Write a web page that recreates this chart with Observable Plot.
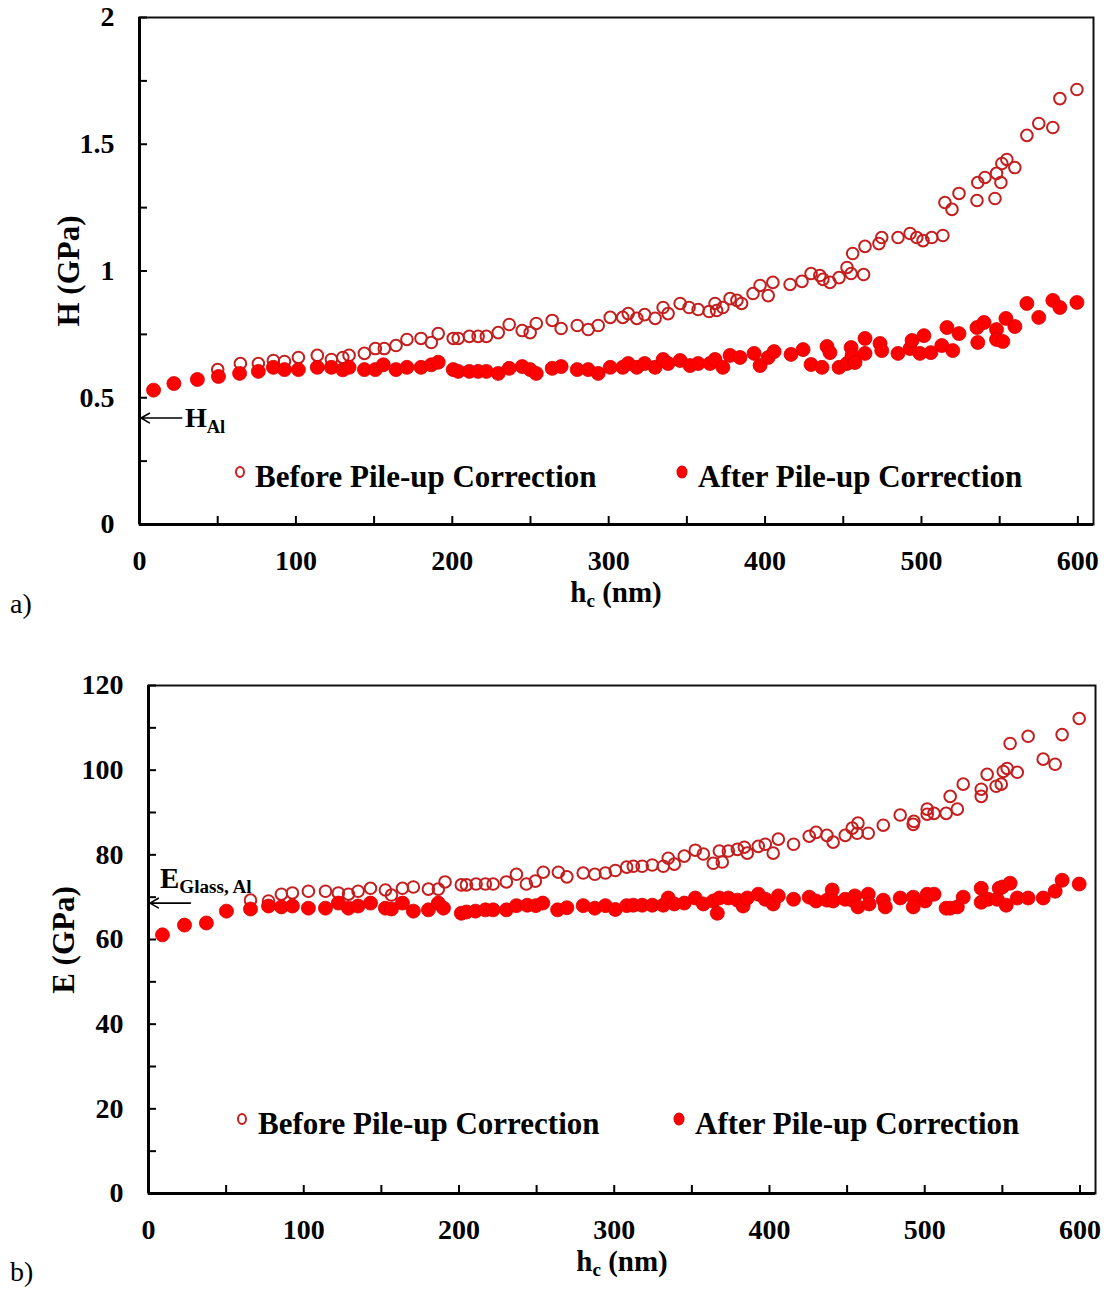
<!DOCTYPE html>
<html>
<head>
<meta charset="utf-8">
<script src="https://cdn.jsdelivr.net/npm/d3@7"></script>
<script src="https://cdn.jsdelivr.net/npm/@observablehq/plot@0.6"></script>
<style>
  body { margin: 0; background: #fff; }
  #fig { position: relative; width: 1110px; height: 1290px; font-family: "Liberation Serif", "Times New Roman", serif; color: #000; overflow: hidden; }
  .panel { position: absolute; left: 0; }
  .t { position: absolute; white-space: nowrap; line-height: 1; font-weight: bold; }
  .legend { font-size: 31px; transform: translateY(-50%); }
  .sym { position: absolute; box-sizing: border-box; border-radius: 50%; transform: translate(-50%, -50%); }
  .sym.open { width: 10px; height: 12px; border: 2px solid #c41e1e; background: #fff; }
  .sym.fill { width: 11px; height: 13px; background: #ff0000; border: 1px solid #d40000; }
  .ytitle { font-size: 31px; transform: translate(-50%, -50%) rotate(-90deg); }
  .xtitle { font-size: 29px; transform: translate(-50%, -50%); }
  .xtitle sub, .ann sub { font-size: 0.66em; vertical-align: -0.3em; }
  .tag { font-size: 28px; font-weight: normal; transform: translateY(-50%); }
  .ann { font-size: 28px; transform: translateY(-50%); }
  .ann.wide { font-size: 29px; }
</style>
</head>
<body>
<div id="fig"></div>
<script>
// Hardness H (GPa) versus contact depth hc (nm): [hc, H]
const hardnessBefore = [
  [50,0.611],[64.5,0.635],[76,0.635],[85.6,0.647],[92.7,0.643],[101.6,0.659],[113.7,0.667],[122.7,0.651],
  [130,0.659],[134,0.667],[143.8,0.675],[150.8,0.694],[156.5,0.694],[164,0.706],[171,0.73],[180,0.734],
  [186.6,0.718],[191,0.753],[200.6,0.734],[203.8,0.734],[210.9,0.742],[216.5,0.742],[221.8,0.742],[229.4,0.757],
  [236.4,0.789],[244.7,0.765],[249.8,0.757],[253.7,0.793],[263.9,0.805],[269.6,0.773],[279.9,0.785],[286.9,0.769],
  [293.3,0.785],[301,0.817],[309,0.817],[312.5,0.832],[318,0.813],[323,0.828],[329.7,0.813],[334.8,0.856],
  [338,0.832],[345.7,0.872],[351.4,0.856],[357.2,0.848],[364.2,0.84],[368,0.872],[369,0.844],[373,0.856],
  [377.6,0.891],[382,0.884],[385,0.872],[392.3,0.911],[396.8,0.943],[402,0.903],[405,0.955],[416,0.947],
  [423.6,0.959],[429.4,0.99],[435,0.982],[437,0.967],[441.5,0.955],[447.3,0.974],[452.4,1.014],[455,0.99],
  [456,1.069],[463,0.986],[463.9,1.097],[472.8,1.108],[474.6,1.132],[485,1.132],[492.7,1.148],[497,1.132],
  [501,1.12],[506.6,1.132],[513.7,1.14],[515,1.27],[519.5,1.243],[524,1.306],[535.5,1.278],[536,1.349],
  [540.6,1.369],[547,1.286],[548,1.385],[550.8,1.349],[551.4,1.424],[554.6,1.44],[559.7,1.408],[567.4,1.535],
  [575,1.582],[584,1.566],[588.5,1.68],[599.4,1.716]
];
const hardnessAfter = [
  [9,0.53],[22,0.556],[37,0.572],[50.5,0.584],[64,0.596],[76,0.604],[85.6,0.62],[92.7,0.611],[101.6,0.611],
  [113.7,0.62],[122.7,0.62],[130,0.61],[134,0.62],[143.8,0.611],[150.8,0.611],[155.9,0.63],[164,0.611],
  [171,0.62],[180,0.62],[186.6,0.63],[191,0.64],[200.6,0.611],[203.8,0.604],[210.9,0.604],[216.5,0.604],
  [221.8,0.604],[229.4,0.596],[236.4,0.616],[244.7,0.623],[249.8,0.611],[253.7,0.596],[263.9,0.616],
  [269.6,0.623],[279.9,0.611],[286.9,0.611],[293.3,0.596],[301,0.62],[309,0.62],[312.5,0.635],[318,0.62],
  [323,0.635],[329.7,0.62],[334.8,0.651],[338,0.635],[345.7,0.647],[352,0.627],[357.2,0.635],[364.8,0.635],
  [368,0.651],[373,0.62],[377.6,0.667],[384,0.659],[393,0.675],[396.8,0.627],[402,0.659],[405.8,0.682],
  [416.6,0.671],[424.3,0.69],[429.4,0.631],[436.4,0.62],[439.6,0.702],[441.5,0.678],[447.3,0.62],[452.4,0.635],
  [455,0.698],[455.6,0.667],[457.5,0.639],[463.9,0.734],[463.9,0.675],[473.5,0.714],[474.6,0.686],[485,0.675],
  [492.7,0.694],[494,0.726],[499,0.675],[501.6,0.745],[506,0.678],[513,0.706],[516.3,0.777],[520,0.686],
  [524,0.753],[535.5,0.777],[536,0.718],[540,0.797],[548,0.769],[548,0.73],[552,0.722],[554,0.813],
  [559.7,0.781],[567.4,0.872],[575,0.817],[584,0.884],[588.5,0.856],[599.4,0.876]
];

// Elastic modulus E (GPa) versus contact depth hc (nm): [hc, E]
const modulusBefore = [
  [65.7,69.3],[77.3,69.1],[85.6,70.7],[92.7,71.0],[103,71.4],[114,71.4],[122.3,71.0],[128.8,70.7],[135,71.4],
  [143,72.1],[152.6,71.7],[156.5,70.5],[163.6,72.1],[170.6,72.4],[180.3,71.9],[186.7,71.9],[191,73.6],
  [201.5,72.9],[204.8,72.9],[211,73.1],[217,73.1],[222,73.1],[230.5,73.6],[237,75.4],[243.4,73.1],[249.2,73.8],
  [254.3,75.9],[264,75.9],[269.5,74.8],[280,75.7],[287.5,75.4],[294.3,75.7],[300.7,76.3],[308,77.1],
  [312.3,77.3],[318,77.3],[324.5,77.6],[331.6,77.3],[334.8,79.2],[338.7,77.8],[345.1,79.7],[352.2,81.1],
  [357.4,80.2],[363.8,78.0],[367.7,80.9],[369.6,78.3],[373.5,80.9],[379.3,81.3],[383.8,81.8],[385.7,80.4],
  [392.8,82.0],[397.3,82.5],[402.4,80.4],[405.7,83.7],[415.5,82.5],[425.6,84.4],[430,85.3],[437,84.6],
  [441,83.0],[448.8,84.6],[453.3,86.3],[456.5,85.1],[457,87.5],[463.6,85.1],[473.3,87.0],[484.2,89.4],
  [492.6,87.2],[493,87.9],[501.6,90.8],[501.6,89.6],[506,89.8],[513.8,89.8],[516.4,93.8],[521,90.8],
  [524.8,96.7],[536.4,93.8],[536.4,95.5],[540.2,99.0],[546,96.2],[549.3,96.7],[550.6,99.7],[553.1,100.4],
  [555,106.3],[559.6,99.5],[566.6,108.0],[576.3,102.6],[584,101.4],[588.5,108.4],[599.5,112.2]
];
const modulusAfter = [
  [9,61.1],[23.2,63.4],[37.3,63.9],[50.2,66.7],[65.7,67.2],[77.3,67.9],[85.6,67.7],[92.7,67.9],[103,67.4],
  [114,67.4],[122.3,68.6],[128.8,67.4],[135,67.9],[143,68.6],[152.6,67.4],[156.5,67.2],[163.6,68.6],
  [170.6,66.7],[180.3,67.0],[186.7,68.6],[190,67.4],[201.5,66.2],[204.8,66.5],[210.6,66.7],[217,67.0],
  [222,67.0],[230.5,67.0],[237,68.0],[244,68.1],[249.5,68.0],[254,68.6],[263.5,67.0],[269.5,67.5],[280,68.0],
  [287.5,67.4],[294.3,68.0],[300.7,67.1],[308,68.0],[312.3,68.1],[318,68.1],[324.5,68.1],[331.6,68.1],
  [334.8,69.8],[338.7,68.4],[345.1,68.6],[352.2,69.8],[357.4,68.4],[363.8,69.1],[366.4,66.2],[367.7,69.8],
  [373.5,69.8],[379.3,69.3],[383,67.9],[385.7,69.8],[392.8,70.7],[397.3,69.5],[402.4,68.4],[405.7,70.3],
  [415.5,69.5],[425.6,70.0],[430,69.1],[437,69.3],[440.4,71.7],[441,69.1],[448.8,69.5],[453.3,69.3],
  [455,70.3],[457,67.7],[463.6,70.7],[464.2,68.4],[473.3,69.3],[474.6,67.7],[484.2,69.8],[492.6,70.0],
  [492.6,67.7],[500.3,69.1],[501.6,70.7],[506,70.7],[513.8,67.4],[516.4,67.4],[521,67.7],[524.8,70.0],
  [536.4,72.1],[536.4,68.8],[540.9,69.5],[546.7,69.5],[548,72.1],[550,72.4],[552.5,68.1],[555,73.3],
  [559.6,69.8],[566.6,69.8],[576.3,69.8],[584,71.4],[588.5,74.0],[599.5,73.1]
];

// Reference values marked with arrows on the y axes
const hardnessAl = 0.42;      // H_Al
const modulusGlassAl = 68.6;  // E_Glass,Al
const arrowSpan = [27, 1];    // hc extent of the reference arrows

// Axis ticks
const xTickLabels = [0, 100, 200, 300, 400, 500, 600];
const xTickMarks = [0, 50, 100, 150, 200, 250, 300, 350, 400, 450, 500, 550, 600];
const hTickLabels = [0, 0.5, 1, 1.5, 2];
const hTickMarks = [0, 0.25, 0.5, 0.75, 1, 1.25, 1.5, 1.75, 2];
const eTickLabels = [0, 20, 40, 60, 80, 100, 120];
const eTickMarks = d3.range(0, 121, 10);

const openStroke = "#c41e1e";
const solidFill = "#ff0000";

function panel({before, after, yDomain, yLabels, yMarks, ref, marginLeft, marginRight, marginBottom}) {
  return Plot.plot({
    width: 1110,
    height: 600,
    marginTop: 17,
    marginBottom,
    marginLeft,
    marginRight,
    x: {domain: [0, 610]},
    y: {domain: yDomain},
    style: {fontFamily: '"Liberation Serif", "Times New Roman", serif', fontSize: "28px", fontWeight: "bold", color: "#000", background: "transparent", overflow: "visible"},
    marks: [
      Plot.frame({stroke: "#111", strokeWidth: 2}),
      Plot.ruleX([0], {stroke: "#000", strokeWidth: 3}),
      Plot.ruleY([yDomain[0]], {stroke: "#000", strokeWidth: 3}),
      // inward tick marks
      Plot.axisX({ticks: xTickMarks, tickSize: 8, dy: -8, tickFormat: () => "", label: null, strokeWidth: 2}),
      Plot.axisY({ticks: yMarks, tickSize: 8, dx: 8, tickFormat: () => "", label: null, strokeWidth: 2}),
      // tick labels
      Plot.axisX({ticks: xTickLabels, tickSize: 0, tickPadding: 26, tickFormat: d => String(d), label: null}),
      Plot.axisY({ticks: yLabels, tickSize: 0, tickPadding: 25, tickFormat: d => String(d), label: null}),
      // reference arrow
      Plot.arrow([ref], {x1: arrowSpan[0], x2: arrowSpan[1], y1: d => d, y2: d => d, stroke: "#000", strokeWidth: 1.6, headLength: 9}),
      // data
      Plot.dot(before, {x: d => d[0], y: d => d[1], r: 5.8, fill: "none", stroke: openStroke, strokeWidth: 2}),
      Plot.dot(after, {x: d => d[0], y: d => d[1], r: 7, fill: solidFill, stroke: "#d80000", strokeWidth: 0.8})
    ]
  });
}

const fig = document.getElementById("fig");

const a = panel({before: hardnessBefore, after: hardnessAfter, yDomain: [0, 2], yLabels: hTickLabels, yMarks: hTickMarks,
  ref: hardnessAl, marginLeft: 139, marginRight: 17, marginBottom: 76});
a.classList.add("panel");
a.style.top = "0px";
fig.appendChild(a);

const b = panel({before: modulusBefore, after: modulusAfter, yDomain: [0, 120], yLabels: eTickLabels, yMarks: eTickMarks,
  ref: modulusGlassAl, marginLeft: 148, marginRight: 15, marginBottom: 75});
b.classList.add("panel");
b.style.top = "668px";
fig.appendChild(b);

// Titles, legends and annotations
function addText(html, cls, left, top) {
  const el = document.createElement("div");
  el.className = "t " + cls;
  el.innerHTML = html;
  el.style.left = left + "px";
  el.style.top = top + "px";
  fig.appendChild(el);
  return el;
}
function addSym(cls, left, top) {
  const el = document.createElement("div");
  el.className = "sym " + cls;
  el.style.left = left + "px";
  el.style.top = top + "px";
  fig.appendChild(el);
}

// panel a
addText("H (GPa)", "ytitle", 68, 271);
addText("h<sub>c</sub> (nm)", "xtitle", 616, 594);
addText("a)", "tag", 10, 604);
addText("H<sub>Al</sub>", "ann", 185, 420);
addSym("open", 240, 472);
addText("Before Pile-up Correction", "legend", 255, 476);
addSym("fill", 682, 472);
addText("After Pile-up Correction", "legend", 698, 476);

// panel b
addText("E (GPa)", "ytitle", 63, 940);
addText("h<sub>c</sub> (nm)", "xtitle", 622, 1263);
addText("b)", "tag", 10, 1272);
addText("E<sub>Glass, Al</sub>", "ann wide", 160, 880);
addSym("open", 242, 1119);
addText("Before Pile-up Correction", "legend", 258, 1123);
addSym("fill", 679, 1119);
addText("After Pile-up Correction", "legend", 695, 1123);
</script>
</body>
</html>
